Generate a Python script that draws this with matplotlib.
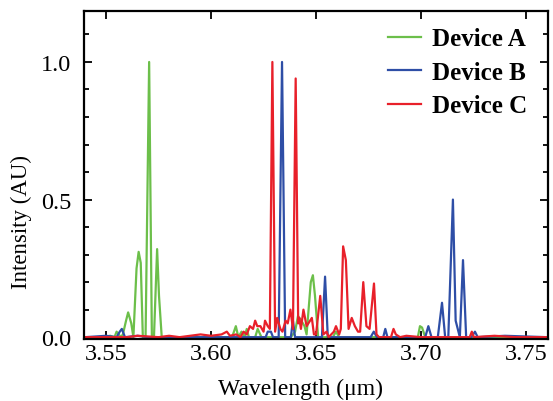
#Program to plot the emission spectra of three devices.
import matplotlib
matplotlib.use("Agg")
import matplotlib.pyplot as plt
from matplotlib.ticker import MultipleLocator

#Wavelength (um) and intensity (AU) points.
wl_a = [3.540, 3.548, 3.552, 3.554, 3.555, 3.557, 3.558, 3.5595, 3.5605, 3.562,
        3.563, 3.5645, 3.5655, 3.5665, 3.5675, 3.5688, 3.5705, 3.5718, 3.5728,
        3.5743, 3.5752, 3.5765, 3.580, 3.590, 3.600, 3.610, 3.6118, 3.613,
        3.6145, 3.616, 3.617, 3.618, 3.621, 3.6222, 3.624, 3.630, 3.638, 3.640,
        3.6414, 3.643, 3.6445, 3.6455, 3.6475, 3.6485, 3.6495, 3.651, 3.652,
        3.658, 3.6595, 3.661, 3.670, 3.690, 3.6985, 3.6995, 3.7005, 3.702,
        3.710, 3.760]
int_a = [0.0, 0.0, 0.005, 0.0, 0.02, 0.0, 0.01, 0.06, 0.09, 0.05,
         0.0, 0.25, 0.31, 0.27, 0.0, 0.0, 1.0, 0.0, 0.0,
         0.32, 0.15, 0.0, 0.0, 0.0, 0.0, 0.0, 0.04, 0.0,
         0.02, 0.0, 0.03, 0.0, 0.0, 0.03, 0.0, 0.0, 0.0, 0.02,
         0.077, 0.06, 0.04, 0.01, 0.2, 0.225, 0.15, 0.0, 0.0,
         0.0, 0.02, 0.0, 0.0, 0.0, 0.0, 0.04, 0.035, 0.0,
         0.0, 0.0]

wl_b = [3.540, 3.550, 3.555, 3.5565, 3.5575, 3.559, 3.565, 3.570, 3.600, 3.620,
        3.626, 3.627, 3.6285, 3.6295, 3.6322, 3.6338, 3.6353, 3.638, 3.639,
        3.640, 3.645, 3.650, 3.6528, 3.6543, 3.6556, 3.660, 3.676, 3.6775,
        3.679, 3.682, 3.683, 3.684, 3.690, 3.696, 3.702, 3.7035, 3.705, 3.708,
        3.710, 3.7115, 3.713, 3.7152, 3.7165, 3.7185, 3.720, 3.7215, 3.724,
        3.7257, 3.727, 3.740, 3.760]
int_b = [0.0, 0.005, 0.0, 0.02, 0.03, 0.0, 0.005, 0.0, 0.0, 0.0,
         0.0, 0.02, 0.02, 0.0, 0.0, 1.0, 0.0, 0.0, 0.06,
         0.0, 0.0, 0.0, 0.0, 0.22, 0.0, 0.0, 0.0, 0.02,
         0.0, 0.0, 0.03, 0.0, 0.0, 0.0, 0.0, 0.04, 0.0, 0.0,
         0.125, 0.0, 0.0, 0.5, 0.06, 0.0, 0.28, 0.0, 0.0,
         0.02, 0.0, 0.005, 0.0]

wl_c = [3.540, 3.560, 3.565, 3.575, 3.580, 3.585, 3.590, 3.595, 3.600, 3.605,
        3.6075, 3.609, 3.612, 3.614, 3.6155, 3.617, 3.6185, 3.620, 3.621,
        3.622, 3.6235, 3.625, 3.6257, 3.627, 3.628, 3.6292, 3.6305, 3.6315,
        3.633, 3.634, 3.6355, 3.6365, 3.6378, 3.639, 3.6403, 3.6415, 3.642,
        3.6428, 3.644, 3.6455, 3.648, 3.649, 3.650, 3.652, 3.6535, 3.655,
        3.656, 3.6585, 3.6595, 3.661, 3.6618, 3.6629, 3.6642, 3.6655, 3.667,
        3.6685, 3.670, 3.671, 3.6725, 3.674, 3.6755, 3.6776, 3.6788, 3.680,
        3.684, 3.6857, 3.6869, 3.688, 3.690, 3.693, 3.700, 3.710, 3.7232,
        3.7242, 3.7252, 3.735, 3.745, 3.760]
int_c = [0.0, 0.0, 0.005, 0.0, 0.005, 0.0, 0.005, 0.01, 0.005, 0.01,
         0.02, 0.005, 0.01, 0.0, 0.02, 0.01, 0.04, 0.03, 0.06,
         0.04, 0.04, 0.02, 0.06, 0.04, 0.03, 1.0, 0.02, 0.07,
         0.03, 0.02, 0.06, 0.05, 0.10, 0.03, 0.94, 0.05, 0.07,
         0.03, 0.10, 0.04, 0.07, 0.01, 0.01, 0.15, 0.01, 0.02,
         0.0, 0.02, 0.04, 0.01, 0.03, 0.33, 0.28, 0.03, 0.07,
         0.04, 0.02, 0.02, 0.2, 0.04, 0.03, 0.195, 0.01, 0.0,
         0.0, 0.0, 0.03, 0.01, 0.0, 0.005, 0.0, 0.0, 0.0,
         0.02, 0.0, 0.005, 0.0, 0.0]

labels = ["Device A", "Device B", "Device C"]
colors = ["#6cbf4a", "#2e4ea6", "#e8202a"]


def main():
    """Mainline logic for creating the spectra plot."""
    plt.rcParams['font.family'] = ['Liberation Serif', 'DejaVu Serif']
    fig = plt.figure(figsize=(5.53, 4.02), dpi=100)
    ax = fig.add_axes([0.152, 0.154, 0.839, 0.816])

    #Plot each device spectrum.
    for wl, inten, lab, col in zip([wl_a, wl_b, wl_c], [int_a, int_b, int_c],
                                   labels, colors):
        ax.plot(wl, inten, color=col, lw=1.6, label=lab)

    ax.set_xlim(3.5395, 3.7605)
    ax.set_ylim(-0.007, 1.185)

    #Ticks pointing inward on all sides.
    ax.set_xticks([3.55, 3.60, 3.65, 3.70, 3.75])
    ax.set_yticks([0.0, 0.5, 1.0])
    ax.yaxis.set_minor_locator(MultipleLocator(0.1))
    ax.tick_params(which='both', direction='in', top=True, right=True,
                   labelsize=17.5, width=1.3)
    ax.tick_params(which='major', length=6)
    ax.tick_params(which='minor', length=3.5)
    ax.tick_params(axis='y', which='major', pad=9)
    ax.tick_params(axis='x', which='major', pad=3)
    for side in ax.spines.values():
        side.set_linewidth(1.6)

    ax.set_xlabel("Wavelength (\u03bcm)", fontsize=17)
    ax.set_ylabel("Intensity (AU)", fontsize=16.5)
    ax.xaxis.set_label_coords(0.466, -0.118)
    ax.yaxis.set_label_coords(-0.113, 0.36)

    ax.legend(loc='upper right', frameon=False, bbox_to_anchor=(0.991, 1.0),
              prop={'weight': 'bold', 'size': 18}, handlelength=1.32,
              handletextpad=0.45, labelspacing=0.42, borderaxespad=0.25)

    fig.savefig("out.png", dpi=100)


if __name__ == '__main__':
    main()
